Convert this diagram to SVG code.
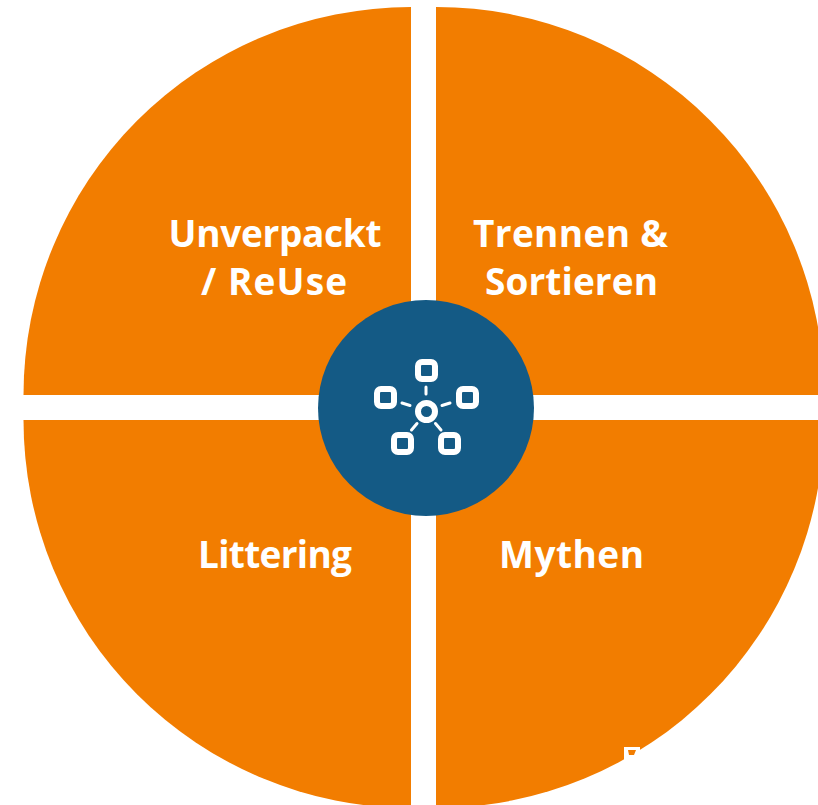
<svg xmlns="http://www.w3.org/2000/svg" width="818" height="805" viewBox="0 0 818 805">
<style>
.lbl{font-family:"Open Sans","Noto Sans","Liberation Sans",sans-serif;font-weight:700;font-size:37px;fill:#fff;text-anchor:middle}
.q{fill:#f27d00}
.ic{fill:none;stroke:#fff;stroke-width:3;stroke-linecap:round}
.sq{fill:none;stroke:#fff;stroke-width:6}
</style>
<rect width="818" height="805" fill="#fff"/>
<g id="quadrant-unverpackt"><path class="q" d="M411 395H23.5A388 388 0 0 1 411 7Z"/><text class="lbl" x="275" y="247" textLength="213">Unverpackt</text><text class="lbl" x="274" y="295" textLength="146">/ ReUse</text></g>
<g id="quadrant-trennen"><path class="q" d="M436 7A388 388 0 0 1 824 395H436Z"/><text class="lbl" x="570.500" y="247" textLength="195">Trennen &amp;</text><text class="lbl" x="571.500" y="295" textLength="173">Sortieren</text></g>
<g id="quadrant-littering"><path class="q" d="M411 420V808A388 388 0 0 1 23.5 420Z"/><text class="lbl" x="275" y="568" textLength="154">Littering</text></g>
<g id="quadrant-mythen"><path class="q" d="M436 420H824A388 388 0 0 1 436 808Z"/><text class="lbl" x="571.500" y="568" textLength="145">Mythen</text></g>
<g id="artifact"><path fill="#fff" d="M624 747H640V770H624Z"/><path class="q" d="M628 750H636L634 755H629Z"/></g>
<g id="hub"><circle cx="426" cy="408" r="108" fill="#145a85"/>
<rect class="sq" x="418" y="362" width="17" height="17" rx="4"/>
<rect class="sq" x="377" y="389" width="17" height="17" rx="4"/>
<rect class="sq" x="459" y="389" width="17" height="17" rx="4"/>
<rect class="sq" x="394" y="435" width="17" height="17" rx="4"/>
<rect class="sq" x="441" y="435" width="17" height="17" rx="4"/>
<circle cx="426.5" cy="411.5" r="8.5" fill="none" stroke="#fff" stroke-width="6"/>
<g id="connectors"><path class="ic" d="M426 387V394M402 403L410 405.500M442 405.500L450 403M417 423.500L411.500 430M435.500 423.500L441 430"/></g>
</g>
</svg>
